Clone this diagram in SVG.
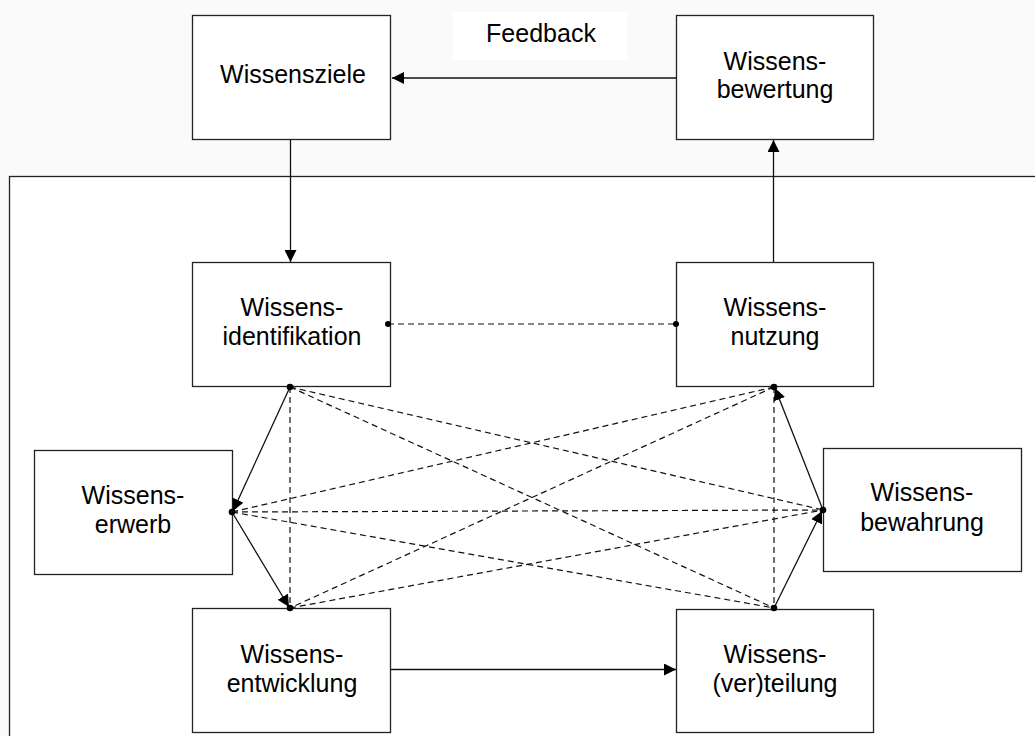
<svg xmlns="http://www.w3.org/2000/svg" width="1035" height="736" viewBox="0 0 1035 736">
  <defs>
    <style>
      .box { fill: #ffffff; stroke: #222222; stroke-width: 1.3; }
      .lbl { font-family: "Liberation Sans", Arial, sans-serif; font-size: 25px; fill: #000000; text-anchor: middle; }
      .solid { stroke: #111111; stroke-width: 1.3; fill: none; }
      .dash { stroke: #111111; stroke-width: 1.2; fill: none; stroke-dasharray: 6 4; }
      .dot { fill: #000000; }
    </style>
    <marker id="arrow" markerUnits="userSpaceOnUse" markerWidth="12" markerHeight="12" refX="12" refY="6" orient="auto">
      <path d="M0,0 L12,6 L0,12 Z" fill="#000000"/>
    </marker>
    <marker id="arrowS" markerUnits="userSpaceOnUse" markerWidth="12" markerHeight="12" refX="12" refY="6" orient="auto">
      <path d="M0,0 L12,6 L0,12 Z" fill="#000000"/>
    </marker>
  </defs>

  <rect x="0" y="0" width="1035" height="736" fill="#fafafa"/>
  <rect id="frame" x="9.5" y="176.5" width="1040" height="570" fill="#ffffff" stroke="#222222" stroke-width="1.3"/>

  <g id="feedback-label">
    <rect x="453" y="12" width="174" height="48" fill="#ffffff"/>
    <text class="lbl" x="541" y="42">Feedback</text>
  </g>

  <g id="wissensziele">
    <rect class="box" x="192.5" y="15.5" width="198" height="124"/>
    <text class="lbl" x="293" y="83">Wissensziele</text>
  </g>

  <g id="wissensbewertung">
    <rect class="box" x="676.5" y="15.5" width="197" height="124"/>
    <text class="lbl" x="775" y="70">Wissens-</text>
    <text class="lbl" x="775" y="98">bewertung</text>
  </g>

  <g id="wissensidentifikation">
    <rect class="box" x="192.5" y="262.5" width="198" height="124"/>
    <text class="lbl" x="292" y="316">Wissens-</text>
    <text class="lbl" x="292" y="345">identifikation</text>
  </g>

  <g id="wissensnutzung">
    <rect class="box" x="676.5" y="262.5" width="197" height="124"/>
    <text class="lbl" x="775" y="316">Wissens-</text>
    <text class="lbl" x="775" y="345">nutzung</text>
  </g>

  <g id="wissenserwerb">
    <rect class="box" x="34.5" y="450.5" width="198" height="124"/>
    <text class="lbl" x="133" y="504">Wissens-</text>
    <text class="lbl" x="133" y="533">erwerb</text>
  </g>

  <g id="wissensbewahrung">
    <rect class="box" x="823.5" y="448.5" width="198" height="123"/>
    <text class="lbl" x="922" y="501">Wissens-</text>
    <text class="lbl" x="922" y="531">bewahrung</text>
  </g>

  <g id="wissensentwicklung">
    <rect class="box" x="192.5" y="608.5" width="198" height="124"/>
    <text class="lbl" x="292" y="663">Wissens-</text>
    <text class="lbl" x="292" y="692">entwicklung</text>
  </g>

  <g id="wissensverteilung">
    <rect class="box" x="676.5" y="609.5" width="197" height="123"/>
    <text class="lbl" x="775" y="663">Wissens-</text>
    <text class="lbl" x="775" y="692">(ver)teilung</text>
  </g>

  <g id="connectors">
    <line class="solid" x1="676" y1="78" x2="392" y2="78" marker-end="url(#arrow)"/>
    <line class="solid" x1="290.5" y1="140" x2="290.5" y2="262" marker-end="url(#arrow)"/>
    <line class="solid" x1="773.5" y1="262" x2="773.5" y2="140" marker-end="url(#arrow)"/>
    <line class="solid" x1="391" y1="669.5" x2="676" y2="669.5" marker-end="url(#arrow)"/>

    <line class="dash" x1="388" y1="324" x2="676" y2="324"/>

    <line class="dash" x1="290" y1="387" x2="290" y2="608"/>
    <line class="dash" x1="290" y1="387" x2="823" y2="510"/>
    <line class="dash" x1="290" y1="387" x2="774" y2="608"/>
    <line class="dash" x1="774" y1="387" x2="774" y2="608"/>
    <line class="dash" x1="774" y1="387" x2="232" y2="512"/>
    <line class="dash" x1="774" y1="387" x2="290" y2="608"/>
    <line class="dash" x1="232" y1="512" x2="823" y2="510"/>
    <line class="dash" x1="232" y1="512" x2="774" y2="608"/>
    <line class="dash" x1="290" y1="608" x2="823" y2="510"/>

    <line class="solid" x1="290" y1="387" x2="233" y2="511" marker-end="url(#arrowS)"/>
    <line class="solid" x1="232" y1="512" x2="289" y2="607" marker-end="url(#arrowS)"/>
    <line class="solid" x1="774" y1="608" x2="822" y2="511" marker-end="url(#arrowS)"/>
    <line class="solid" x1="823" y1="510" x2="775" y2="388" marker-end="url(#arrowS)"/>

    <circle class="dot" cx="388" cy="324" r="3"/>
    <circle class="dot" cx="676" cy="324" r="3"/>
    <circle class="dot" cx="290" cy="387" r="3.3"/>
    <circle class="dot" cx="774" cy="387" r="3.3"/>
    <circle class="dot" cx="232" cy="512" r="3.3"/>
    <circle class="dot" cx="823" cy="510" r="3.3"/>
    <circle class="dot" cx="290" cy="608" r="3.3"/>
    <circle class="dot" cx="774" cy="608" r="3.3"/>
  </g>
</svg>
